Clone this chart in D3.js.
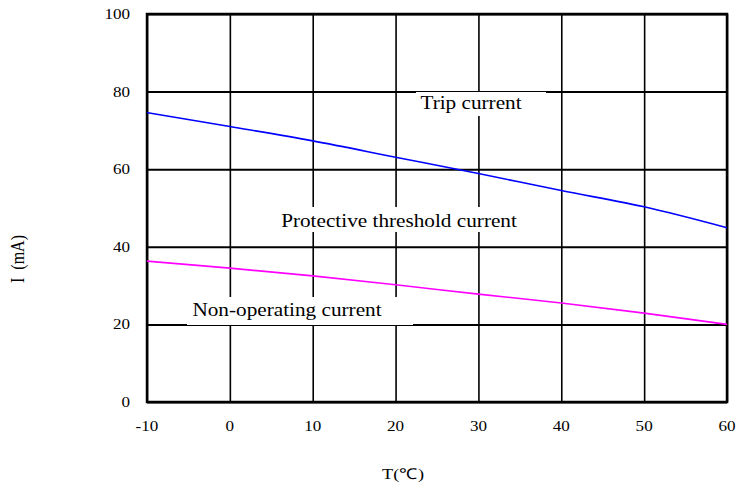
<!DOCTYPE html>
<html>
<head>
<meta charset="utf-8">
<script src="https://cdn.jsdelivr.net/npm/d3@7"></script>
<style>
  html, body { margin: 0; padding: 0; background: #fff; }
  svg { display: block; }
  text { font-family: "Liberation Serif", "Times New Roman", serif; fill: #000; }
</style>
</head>
<body>
<svg id="chart" width="750" height="488"></svg>
<script>
// ---- data ----
const temps = [-10, 0, 10, 20, 30, 40, 50, 60];
const tripCurrent = [74.6, 71.0, 67.3, 63.1, 58.9, 54.5, 50.3, 44.9];
const nonOperatingCurrent = [36.3, 34.5, 32.5, 30.2, 27.8, 25.5, 22.9, 20.0];
const xTicks = [-10, 0, 10, 20, 30, 40, 50, 60];
const yTicks = [0, 20, 40, 60, 80, 100];
const regionLabels = ["Trip current", "Protective threshold current", "Non-operating current"];
const xTitle = "T(\u2103)";
const yTitle = "I\u00a0\u00a0(mA)";

// ---- layout ----
const pL = 147, pR = 727, pT = 14, pB = 402;
const svg = d3.select("#chart");
const x = d3.scaleLinear().domain([-10, 60]).range([pL, pR]);
const y = d3.scaleLinear().domain([0, 100]).range([pB, pT]);
const SX = 1.22; // horizontal glyph stretch seen in reference

// gridlines via axes
const gx = svg.append("g").attr("transform", `translate(0,${pB})`)
  .call(d3.axisBottom(x).tickValues(xTicks).tickSize(-(pB - pT)).tickFormat(""));
gx.select(".domain").remove();
gx.selectAll("line").attr("stroke", "#000").attr("stroke-width", 1.6);

const gy = svg.append("g").attr("transform", `translate(${pL},0)`)
  .call(d3.axisLeft(y).tickValues(yTicks).tickSize(-(pR - pL)).tickFormat(""));
gy.select(".domain").remove();
gy.selectAll("line").attr("stroke", "#000").attr("stroke-width", 2);

// tick labels
svg.append("g").selectAll("text").data(xTicks).join("text")
  .attr("transform", d => `translate(${x(d)},431) scale(${SX},1)`)
  .attr("text-anchor", "middle").style("font-size", "14px").text(d => d);
svg.append("g").selectAll("text").data(yTicks).join("text")
  .attr("transform", d => `translate(130,${y(d) + 5}) scale(${SX},1)`)
  .attr("text-anchor", "end").style("font-size", "14px").text(d => d);

// region label boxes (white backgrounds masking grid)
const boxes = [
  { x0: 416, x1: 546, y0: 92, y1: 116, tx: 471, ty: 109 },
  { x0: 270, x1: 528, y0: 207, y1: 232, tx: 399, ty: 227 },
  { x0: 187, x1: 413, y0: 297, y1: 325, tx: 287, ty: 316 }
];
boxes.forEach((b, i) => {
  svg.append("rect").attr("x", b.x0).attr("y", b.y0)
    .attr("width", b.x1 - b.x0).attr("height", b.y1 - b.y0).attr("fill", "#fff");
  svg.append("text")
    .attr("transform", `translate(${b.tx},${b.ty}) scale(1.18,1)`)
    .attr("text-anchor", "middle").style("font-size", "18px")
    .text(regionLabels[i]);
});

// plot border
svg.append("rect").attr("x", pL).attr("y", pT)
  .attr("width", pR - pL).attr("height", pB - pT)
  .attr("fill", "none").attr("stroke", "#000").attr("stroke-width", 2.5);

// data lines
const line = d3.line().x(d => x(d[0])).y(d => y(d[1])).curve(d3.curveMonotoneX);
svg.append("path").datum(temps.map((t, i) => [t, tripCurrent[i]]))
  .attr("d", line).attr("fill", "none").attr("stroke", "#0000ff").attr("stroke-width", 1.6);
svg.append("path").datum(temps.map((t, i) => [t, nonOperatingCurrent[i]]))
  .attr("d", line).attr("fill", "none").attr("stroke", "#ff00ff").attr("stroke-width", 1.6);

// axis titles
svg.append("text")
  .attr("transform", `translate(403,479) scale(${SX},1)`)
  .attr("text-anchor", "middle").style("font-size", "15px").text(xTitle);
svg.append("text")
  .attr("transform", `translate(24,259) rotate(-90) scale(1,${SX})`)
  .attr("text-anchor", "middle").style("font-size", "16px").text(yTitle);
</script>
</body>
</html>
